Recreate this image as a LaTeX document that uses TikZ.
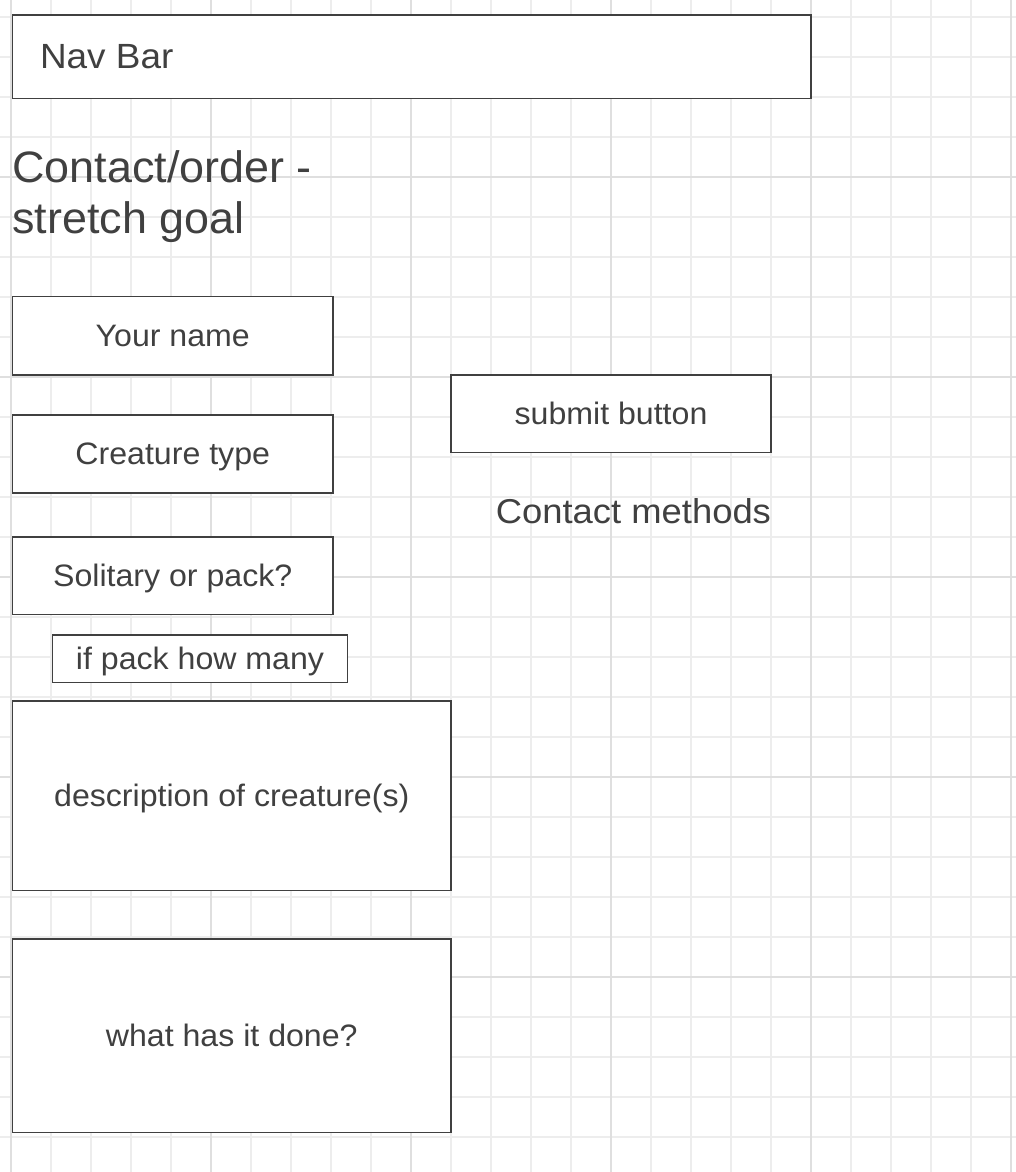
\documentclass[tikz,border=0pt]{standalone}
\usepackage{fontspec}
\setmainfont{Liberation Sans}
\newfontfamily\navfont[FakeStretch=1.055]{Liberation Sans}
\newfontfamily\headfont[FakeStretch=1.02]{Liberation Sans}
\newfontfamily\boxfont[FakeStretch=1.036]{Liberation Sans}
\definecolor{ink}{HTML}{404040}
\definecolor{gridminor}{HTML}{EDEDED}
\definecolor{gridmajor}{HTML}{DFDFDF}
\begin{document}
\begin{tikzpicture}[x=1pt,y=-1pt,
  wbox/.style={draw=ink, line width=1.5pt, fill=white, text=ink, anchor=north west,
    inner sep=0pt, outer sep=0pt, font={\boxfont\fontsize{31}{37}\selectfont},
    text height=22pt, text depth=0.5pt},
  txt/.style={text=ink, inner sep=0pt, outer sep=0pt},
  minorline/.style={gridminor, line width=1.2pt},
  majorline/.style={gridmajor, line width=1.2pt}]
\useasboundingbox (0,0) rectangle (1016,1172);
\fill[white] (0,0) rectangle (1016,1172);
% grid
\foreach \i in {0,...,25} \draw[minorline] (11+40*\i,0) -- (11+40*\i,1172);
\foreach \j in {0,...,28} \draw[minorline] (0,17+40*\j) -- (1016,17+40*\j);
\foreach \i in {0,...,5} \draw[majorline] (11+200*\i,0) -- (11+200*\i,1172);
\foreach \j in {0,...,4} \draw[majorline] (0,177+200*\j) -- (1016,177+200*\j);
% nav bar
\node[wbox, minimum width=798.5pt, minimum height=83.5pt] (nav) at (12.5,15) {};
\node[txt, anchor=base west, font={\navfont\fontsize{35}{42}\selectfont}] (navtext) at (40,68.3) {Nav Bar};
% heading
\node[txt, anchor=base west, font={\headfont\fontsize{44}{50}\selectfont}] (hl1) at (12.5,182) {Contact/order -};
\node[txt, anchor=base west, font={\headfont\fontsize{44}{50}\selectfont}] (hl2) at (12.5,233.5) {stretch goal};
% form fields
\node[wbox, minimum width=320.5pt, minimum height=78.5pt] (yourname) at (12.5,296.5) {Your name};
\node[wbox, minimum width=320.5pt, minimum height=78pt] (creature) at (12.5,415) {Creature type};
\node[wbox, minimum width=320.5pt, minimum height=77.5pt] (solitary) at (12.5,537) {Solitary or pack?};
\node[wbox, minimum width=295pt, minimum height=47.5pt] (ifpack) at (52.5,635) {if pack how many};
\node[wbox, minimum width=438.5pt, minimum height=189.5pt] (desc) at (12.5,701) {description of creature(s)};
\node[wbox, minimum width=438.5pt, minimum height=193.5pt] (done) at (12.5,939) {what has it done?};
\node[wbox, minimum width=320pt, minimum height=77.5pt] (submit) at (451,375) {submit button};
\node[txt, anchor=base east, font={\navfont\fontsize{34.5}{41}\selectfont}] (methods) at (771,523.3) {Contact methods};
\end{tikzpicture}
\end{document}
